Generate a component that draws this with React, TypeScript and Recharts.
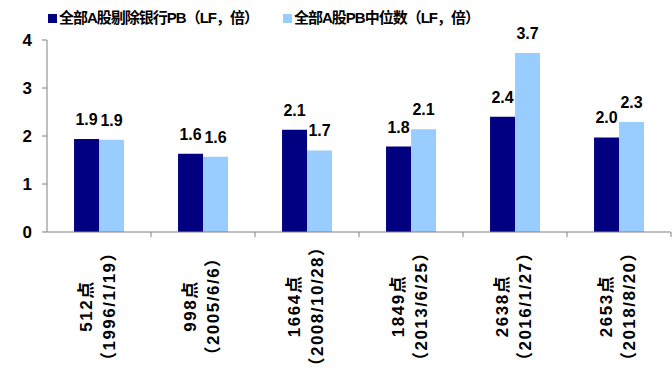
import React from 'react';
import { Bar, BarChart, LabelList, XAxis, YAxis } from 'recharts';

const points = ['512点', '998点', '1664点', '1849点', '2638点', '2653点'];
const dates = ['（1996/1/19）', '（2005/6/6）', '（2008/10/28）', '（2013/6/25）', '（2016/1/27）', '（2018/8/20）'];
const exBankPB = [1.94, 1.63, 2.13, 1.78, 2.4, 1.97];
const medianPB = [1.92, 1.57, 1.7, 2.14, 3.73, 2.29];
const yTicks = [0, 1, 2, 3, 4];

const SERIES_1 = '全部A股剔除银行PB（LF，倍）';
const SERIES_2 = '全部A股PB中位数（LF，倍）';
const DARK = '#000080';
const LIGHT = '#99CCFF';
const AXIS = '#808080';
const FONT = '"Liberation Sans", Arial, "Noto Sans CJK SC", sans-serif';

const data = points.map((p, i) => ({
  name: p,
  date: dates[i],
  a: exBankPB[i],
  b: medianPB[i],
}));

const BAND = 104;

function CategoryTick(props: any) {
  const { x, y, payload, index } = props;
  const row = data[index] ?? data.find((d) => d.name === payload.value);
  return (
    <g>
      <line x1={x + BAND / 2} y1={y - 8} x2={x + BAND / 2} y2={y - 3} stroke={AXIS} />
      <g transform={`translate(${x},${306})`}>
        <text
          transform="rotate(-90)"
          textAnchor="middle"
          fontFamily={FONT}
          fontWeight="bold"
          fontSize={17}
          letterSpacing={1.5}
          fill="#000"
        >
          <tspan x={0} y={-7}>{row?.name}</tspan>
          <tspan x={0} y={16}>{row?.date}</tspan>
        </text>
      </g>
    </g>
  );
}

function Legend() {
  const item = (color: string, label: string, left: number) => (
    <div style={{ position: 'absolute', left, top: 9, display: 'flex', alignItems: 'center' }}>
      <span style={{ width: 9, height: 9, background: color, display: 'inline-block', marginRight: 2 }} />
      <span
        style={{
          fontFamily: FONT,
          fontWeight: 'bold',
          fontSize: 15,
          letterSpacing: -1,
          color: '#000',
          lineHeight: '18px',
        }}
      >
        {label}
      </span>
    </div>
  );
  return (
    <>
      {item(DARK, SERIES_1, 48)}
      {item(LIGHT, SERIES_2, 283)}
    </>
  );
}

export default function App() {
  return (
    <div style={{ position: 'absolute', left: 0, top: 0, width: 672, height: 379, background: '#fff' }}>
      <BarChart
        width={672}
        height={379}
        data={data}
        margin={{ top: 40, right: 1, bottom: 0, left: 0 }}
        barCategoryGap="26%"
        barGap={0}
      >
        <XAxis
          dataKey="name"
          height={147}
          stroke={AXIS}
          tickLine={false}
          tick={<CategoryTick />}
          interval={0}
        />
        <YAxis
          width={47}
          domain={[0, 4]}
          ticks={yTicks}
          stroke={AXIS}
          tickSize={5}
          tickMargin={10}
          tick={{ fill: '#000', fontSize: 17, fontWeight: 'bold', fontFamily: FONT }}
        />
        <Bar dataKey="a" fill={DARK} isAnimationActive={false}>
          <LabelList
            dataKey="a"
            position="top"
            offset={14}
            formatter={(v: any) => Number(v).toFixed(1)}
            style={{ fill: '#000', fontSize: 16, fontWeight: 'bold', fontFamily: FONT }}
          />
        </Bar>
        <Bar dataKey="b" fill={LIGHT} isAnimationActive={false}>
          <LabelList
            dataKey="b"
            position="top"
            offset={14}
            formatter={(v: any) => Number(v).toFixed(1)}
            style={{ fill: '#000', fontSize: 16, fontWeight: 'bold', fontFamily: FONT }}
          />
        </Bar>
      </BarChart>
      <Legend />
    </div>
  );
}
